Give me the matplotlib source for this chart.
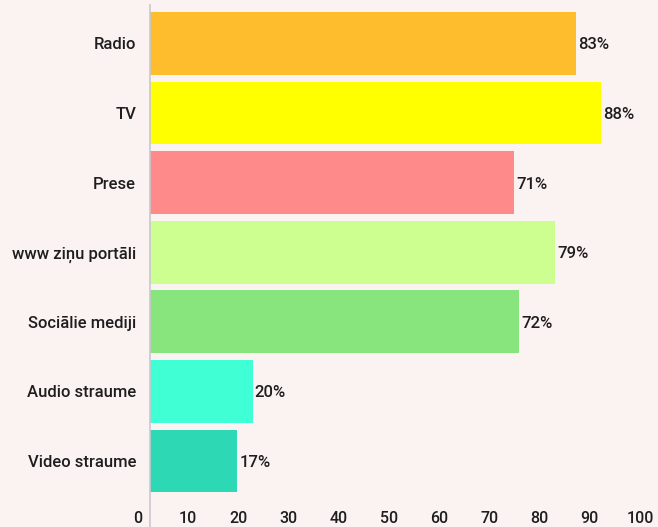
import matplotlib
matplotlib.use("Agg")
import matplotlib.pyplot as plt

categories = ["Radio", "TV", "Prese", "www ziņu portāli", "Sociālie mediji", "Audio straume", "Video straume"]
values = [83, 88, 71, 79, 72, 20, 17]
colors = ["#FDBD2C", "#FFFF00", "#FF8A8A", "#CCFF90", "#88E47C", "#40FFD4", "#2CD9B4"]
tick_values = [0, 10, 20, 30, 40, 50, 60, 70, 80, 90, 100]
tick_labels = [str(t) for t in tick_values]

plt.rcParams['font.family'] = ['Roboto', 'DejaVu Sans']
W, H = 658, 527
bg = "#FBF3F1"
txt = "#1E1E1E"
fig = plt.figure(figsize=(W / 100, H / 100), dpi=100, facecolor=bg)

# main axes: x=0 at px 150, top at px 5, bottom at px 527
left_px, top_px, bot_px = 150, 5, 527
ax = fig.add_axes([left_px / W, (H - bot_px) / H, (W - left_px) / W, (bot_px - top_px) / H])
ax.set_facecolor(bg)
n = len(categories)
ypos = [n - 1 - i for i in range(n)]
ax.barh(ypos, values, height=0.9, color=colors)
ax.set_xlim(0, (W - left_px) / 5.13)
ax.set_ylim(-0.948, 6.552)
for s in ["top", "right", "bottom"]:
    ax.spines[s].set_visible(False)
ax.spines["left"].set_color("#C9C7CF")
ax.spines["left"].set_linewidth(1.2)
ax.set_yticks(ypos)
ax.set_yticklabels(categories, fontsize=12, color=txt, fontweight="medium")
ax.tick_params(axis="y", length=0, pad=10)
ax.set_xticks([])
for y, v in zip(ypos, values):
    ax.text(v + 0.4, y - 0.02, f"{v}%", va="center", ha="left", fontsize=12,
            color=txt, fontweight="medium")

# tick label axis (labels spread as in the original)
lab_left = 130
ax2 = fig.add_axes([lab_left / W, (H - 507) / H, (W - lab_left) / W, 0.0001])
ax2.set_xlim((lab_left - 138) / 5.02, (W - 138) / 5.02)
ax2.set_xticks(tick_values)
ax2.set_xticklabels(tick_labels, fontsize=11.5, color=txt, fontweight="medium")
ax2.tick_params(axis="x", length=0, pad=3)
ax2.set_yticks([])
for s in ax2.spines.values():
    s.set_visible(False)
ax2.patch.set_alpha(0)

fig.savefig("out.png", dpi=100, facecolor=bg)
